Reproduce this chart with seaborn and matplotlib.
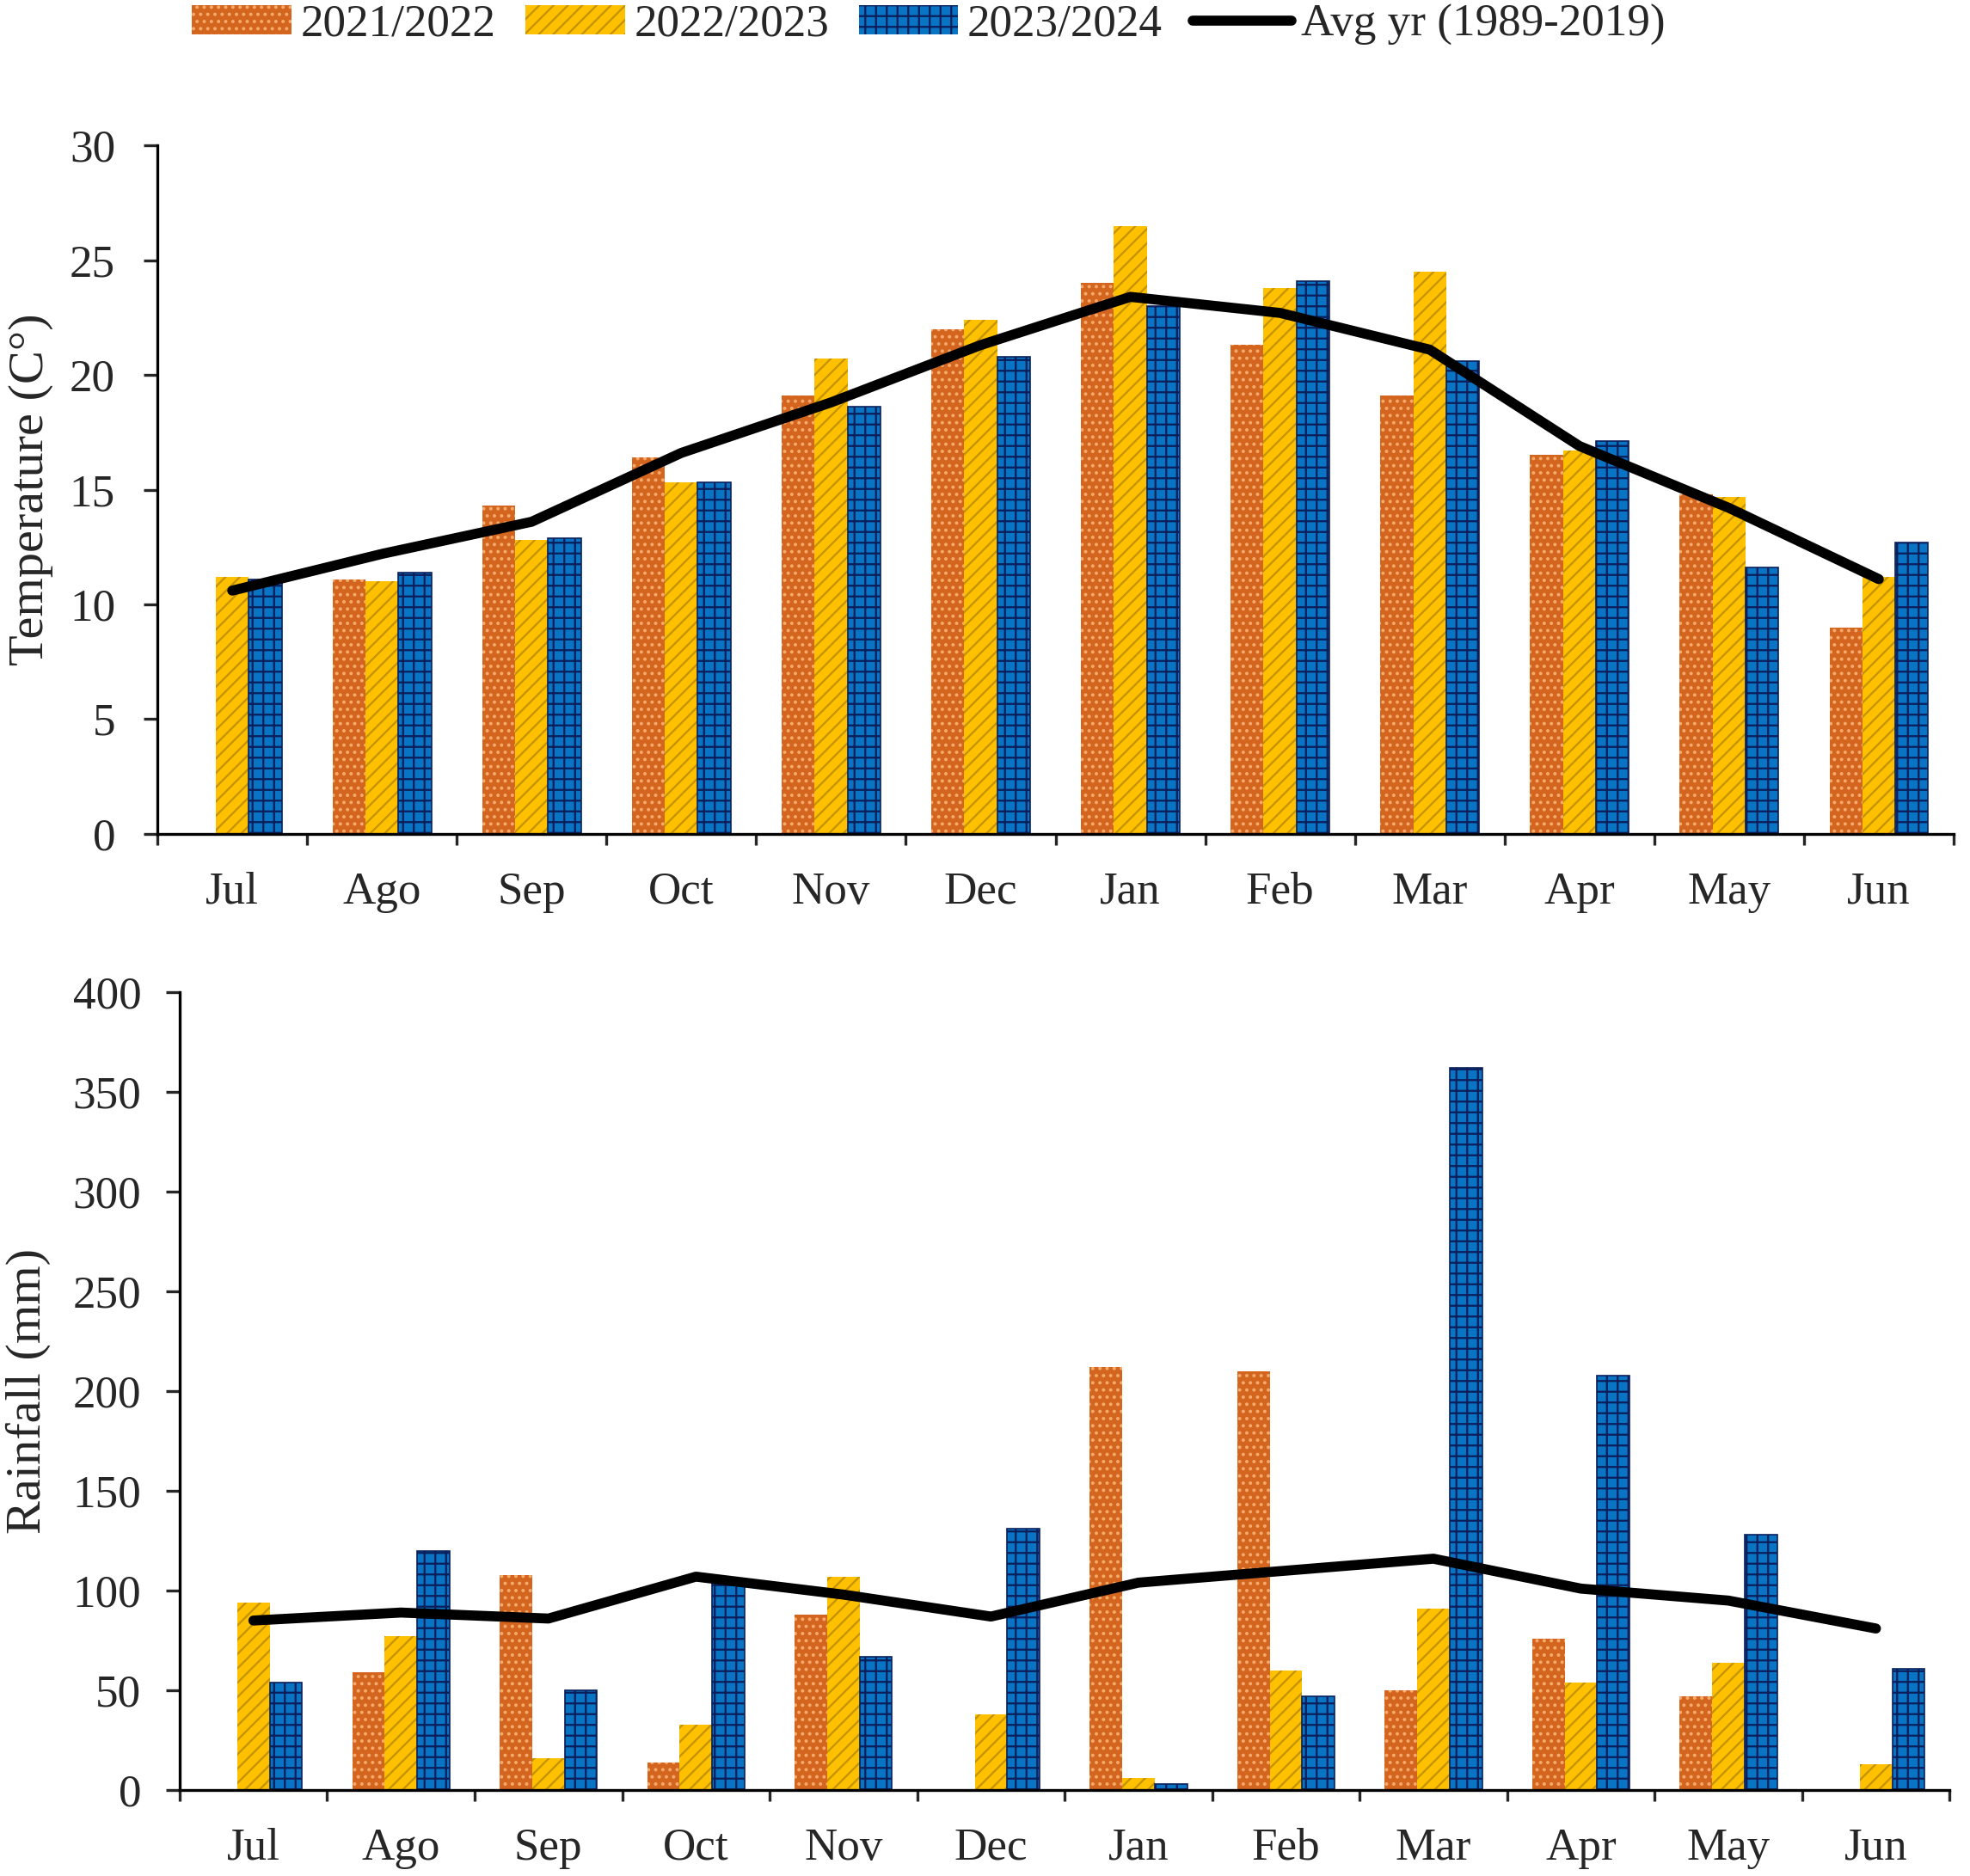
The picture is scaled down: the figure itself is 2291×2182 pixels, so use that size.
import numpy as np
import pandas as pd
import seaborn as sns
import matplotlib.pyplot as plt
from matplotlib.patches import Patch
from matplotlib.lines import Line2D

months = ['Jul', 'Ago', 'Sep', 'Oct', 'Nov', 'Dec', 'Jan', 'Feb', 'Mar', 'Apr', 'May', 'Jun']
seasons = ['2021/2022', '2022/2023', '2023/2024']
avg_label = 'Avg yr (1989-2019)'

temp_2122 = [0, 11.1, 14.3, 16.4, 19.1, 22.0, 24.0, 21.3, 19.1, 16.5, 14.8, 9.0]
temp_2223 = [11.2, 11.0, 12.8, 15.3, 20.7, 22.4, 26.5, 23.8, 24.5, 16.7, 14.7, 11.2]
temp_2324 = [11.1, 11.4, 12.9, 15.3, 18.6, 20.8, 23.0, 24.1, 20.6, 17.1, 11.6, 12.7]
temp_avg = [10.6, 12.2, 13.6, 16.6, 18.8, 21.3, 23.4, 22.7, 21.1, 16.9, 14.2, 11.1]

rain_2122 = [0, 59, 108, 14, 88, 0, 212, 210, 50, 76, 47, 0]
rain_2223 = [94, 77, 16, 33, 107, 38, 6, 60, 91, 54, 64, 13]
rain_2324 = [54, 120, 50, 106, 67, 131, 3, 47, 362, 208, 128, 61]
rain_avg = [85, 89, 86, 107, 98, 87, 104, 110, 116, 101, 95, 81]

# fill, hatch colour, hatch pattern per season
fills = ['#D4651F', '#FFC000', '#0A74C4']
hatch_cols = ['#F6AA6C', '#C49400', '#0A1F5C']
hatches = ['...', '///', '++']

sns.set_theme(style='white')
plt.rcParams['font.family'] = ['Liberation Serif', 'DejaVu Serif']
plt.rcParams['hatch.linewidth'] = 1.1

DPI = 150
TICK = 25.5
LABEL = 28


def long_df(a, b, c):
    return pd.DataFrame({
        'Month': months * 3,
        'Season': np.repeat(seasons, len(months)),
        'Value': list(a) + list(b) + list(c),
    })


def panel(ax, df, avg, ymax, ystep, ylabel, label_x, ypad):
    sns.barplot(data=df, x='Month', y='Value', hue='Season', order=months,
                hue_order=seasons, palette=fills, saturation=1, width=0.66,
                errorbar=None, legend=False, ax=ax)
    n = len(months)
    for i, bar in enumerate(ax.patches):
        k = i // n
        bar.set_hatch(hatches[k])
        bar.set_edgecolor(hatch_cols[k])
        bar.set_linewidth(0.8 if k == 2 else 0)
    sns.lineplot(x=np.arange(n), y=avg, color='black', linewidth=5.6,
                 solid_capstyle='round', ax=ax, zorder=5)
    ax.set_xlim(-0.5, n - 0.5)
    ax.set_ylim(0, ymax)
    ax.set_yticks(np.arange(0, ymax + 1, ystep))
    ax.set_xticks(np.arange(n))
    ax.set_xticklabels(months)
    ax.set_xticks(np.arange(-0.5, n, 1), minor=True)
    ax.tick_params(axis='x', which='major', length=0, pad=21, labelsize=TICK)
    ax.tick_params(axis='x', which='minor', length=6, width=1.6,
                   direction='out', bottom=True)
    ax.tick_params(axis='y', length=7.5, width=1.6, direction='out', left=True,
                   pad=ypad, labelsize=TICK)
    sns.despine(ax=ax)
    for s in ['left', 'bottom']:
        ax.spines[s].set_linewidth(1.6)
        ax.spines[s].set_color('black')
    ax.set_xlabel('')
    ax.set_ylabel(ylabel, fontsize=LABEL)
    ax.yaxis.set_label_coords(label_x, 0.5)


fig = plt.figure(figsize=(2291 / DPI, 2182 / DPI), dpi=DPI)
ax1 = fig.add_axes([0.0799, 0.5555, 0.9118, 0.367])
ax2 = fig.add_axes([0.0912, 0.0458, 0.8985, 0.4253])

panel(ax1, long_df(temp_2122, temp_2223, temp_2324), temp_avg, 30, 5,
      'Temperature (C°)', -0.058, 16)
panel(ax2, long_df(rain_2122, rain_2223, rain_2324), rain_avg, 400, 50,
      'Rainfall (mm)', -0.073, 14)

handles = [Patch(facecolor=fills[k], edgecolor=hatch_cols[k], hatch=hatches[k],
                 linewidth=0) for k in range(3)]
handles.append(Line2D([], [], color='black', linewidth=5.6, solid_capstyle='round'))
fig.legend(handles, seasons + [avg_label], loc='center', ncol=4,
           bbox_to_anchor=(0.4714, 0.9867), frameon=False, fontsize=TICK,
           handlelength=2.17, handleheight=0.6, handletextpad=0.2,
           columnspacing=0.66, borderaxespad=0, borderpad=0)

fig.savefig('out.png', dpi=DPI, facecolor='white')
